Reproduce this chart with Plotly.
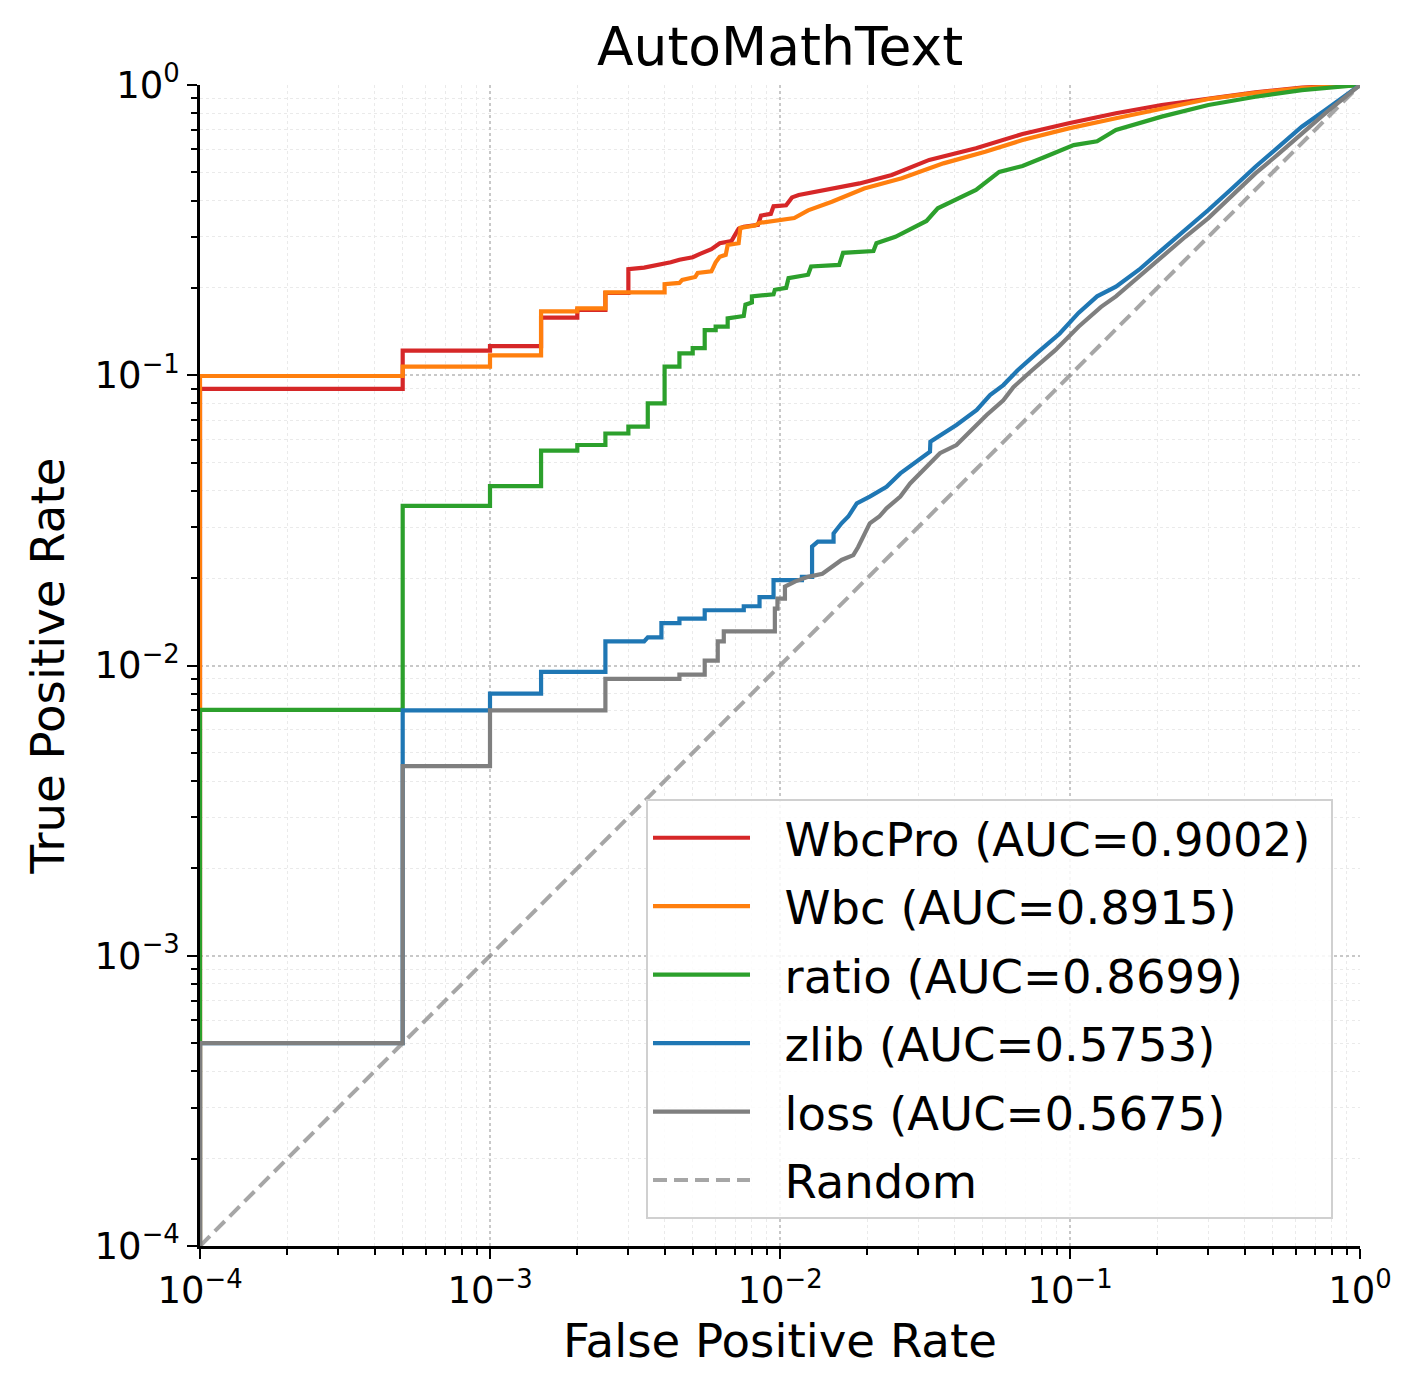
import plotly.graph_objects as go

# ---------------- data ----------------
FLOOR = 1e-6  # stands in for the (0, 0) ROC origin on log axes

wbcpro_fpr = [1e-4, 1e-4, 5e-4, 5e-4, 1e-3, 1e-3, 1.5e-3, 1.5e-3, 2e-3, 2e-3, 2.5e-3, 2.5e-3,
              3e-3, 3e-3, 3.4e-3, 3.8e-3, 4.2e-3, 4.5e-3, 5e-3, 5.3e-3, 5.8e-3, 6.2e-3, 6.8e-3,
              7.2e-3, 7.5e-3, 8.4e-3, 8.6e-3, 9.3e-3, 9.5e-3, 0.0105, 0.011, 0.0116, 0.0145,
              0.0188, 0.0243, 0.028, 0.0327, 0.0474, 0.0686, 0.099, 0.144, 0.207, 0.30, 0.436,
              0.63, 1.0]
wbcpro_tpr = [FLOOR, 0.0897, 0.0897, 0.1215, 0.1215, 0.126, 0.126, 0.158, 0.158, 0.168, 0.168, 0.192,
              0.192, 0.232, 0.235, 0.24, 0.245, 0.25, 0.255, 0.262, 0.272, 0.285, 0.29,
              0.32, 0.325, 0.33, 0.355, 0.36, 0.382, 0.385, 0.41, 0.418, 0.435,
              0.458, 0.49, 0.52, 0.552, 0.605, 0.678, 0.738, 0.799, 0.853, 0.90, 0.943,
              0.98, 1.0]

wbc_fpr = [1e-4, 1e-4, 5e-4, 5e-4, 1e-3, 1e-3, 1.5e-3, 1.5e-3, 2e-3, 2e-3, 2.5e-3, 2.5e-3,
           4e-3, 4e-3, 4.5e-3, 4.6e-3, 5.1e-3, 5.2e-3, 5.8e-3, 6e-3, 6.2e-3, 6.5e-3, 6.6e-3,
           7.2e-3, 7.3e-3, 8.2e-3, 8.5e-3, 0.0112, 0.0125, 0.0151, 0.0195, 0.0263, 0.0366,
           0.051, 0.0686, 0.099, 0.144, 0.207, 0.30, 0.436, 0.63, 1.0]
wbc_tpr = [FLOOR, 0.0994, 0.0994, 0.107, 0.107, 0.117, 0.117, 0.166, 0.166, 0.170, 0.170, 0.193,
           0.193, 0.206, 0.208, 0.213, 0.218, 0.225, 0.228, 0.245, 0.256, 0.26, 0.281,
           0.285, 0.322, 0.328, 0.335, 0.348, 0.37, 0.396, 0.44, 0.477, 0.537,
           0.589, 0.646, 0.709, 0.768, 0.831, 0.895, 0.94, 0.975, 1.0]

ratio_fpr = [1e-4, 1e-4, 5e-4, 5e-4, 1e-3, 1e-3, 1.5e-3, 1.5e-3, 2e-3, 2e-3, 2.5e-3, 2.5e-3,
             3e-3, 3e-3, 3.5e-3, 3.5e-3, 4e-3, 4e-3, 4.5e-3, 4.5e-3, 5e-3, 5e-3, 5.5e-3, 5.5e-3,
             6e-3, 6e-3, 6.6e-3, 6.6e-3, 7.5e-3, 7.6e-3, 8e-3, 8e-3, 9.5e-3, 9.6e-3, 0.0105,
             0.0107, 0.0125, 0.0128, 0.016, 0.0165, 0.021, 0.0215, 0.025, 0.029, 0.032, 0.035,
             0.04, 0.0474, 0.057, 0.0686, 0.0826, 0.103, 0.124, 0.144, 0.207, 0.30, 0.436,
             0.63, 1.0]
ratio_tpr = [FLOOR, 0.00703, 0.00703, 0.0355, 0.0355, 0.0415, 0.0415, 0.055, 0.055, 0.0575, 0.0575, 0.063,
             0.063, 0.0665, 0.0665, 0.080, 0.080, 0.107, 0.107, 0.119, 0.119, 0.124, 0.124, 0.143,
             0.143, 0.147, 0.147, 0.157, 0.16, 0.175, 0.178, 0.187, 0.19, 0.197, 0.2,
             0.216, 0.222, 0.237, 0.24, 0.264, 0.268, 0.285, 0.3, 0.325, 0.34, 0.376,
             0.40, 0.435, 0.502, 0.526, 0.567, 0.621, 0.64, 0.70, 0.778, 0.853, 0.911,
             0.96, 1.0]

zlib_fpr = [1e-4, 1e-4, 5e-4, 5e-4, 1e-3, 1e-3, 1.5e-3, 1.5e-3, 2.5e-3, 2.5e-3, 3.4e-3, 3.5e-3,
            3.9e-3, 3.9e-3, 4.5e-3, 4.5e-3, 5.5e-3, 5.5e-3, 7.5e-3, 7.5e-3, 8.5e-3, 8.5e-3,
            9.5e-3, 9.5e-3, 0.0119, 0.0119, 0.0129, 0.0129, 0.0135, 0.0153, 0.0153, 0.0163,
            0.0172, 0.0184, 0.0204, 0.0233, 0.026, 0.0296, 0.0329, 0.033, 0.0366, 0.0406,
            0.0477, 0.053, 0.0589, 0.066, 0.0767, 0.092, 0.107, 0.124, 0.144, 0.173, 0.207,
            0.25, 0.30, 0.362, 0.436, 0.525, 0.63, 0.76, 1.0]
zlib_tpr = [FLOOR, 0.0005, 0.0005, 0.0070, 0.0070, 0.0080, 0.0080, 0.0095, 0.0095, 0.0121, 0.0121, 0.0125,
            0.0125, 0.014, 0.014, 0.0145, 0.0145, 0.0155, 0.0155, 0.016, 0.016, 0.0172,
            0.0172, 0.0197, 0.0197, 0.0202, 0.0202, 0.0257, 0.0267, 0.0267, 0.0285, 0.0309,
            0.0326, 0.0362, 0.0382, 0.0413, 0.0459, 0.0504, 0.0545, 0.059, 0.063, 0.0674,
            0.0759, 0.0855, 0.0925, 0.104, 0.119, 0.139, 0.164, 0.187, 0.202, 0.231, 0.270,
            0.316, 0.371, 0.44, 0.523, 0.613, 0.718, 0.82, 1.0]

loss_fpr = [1e-4, 1e-4, 5e-4, 5e-4, 1e-3, 1e-3, 2.5e-3, 2.5e-3, 4.5e-3, 4.5e-3, 5.5e-3, 5.5e-3,
            6.1e-3, 6.1e-3, 6.4e-3, 6.4e-3, 9.6e-3, 9.6e-3, 9.8e-3, 9.8e-3, 0.0104, 0.0104,
            0.0113, 0.0125, 0.014, 0.0151, 0.0163, 0.0179, 0.0186, 0.0204, 0.022, 0.0233,
            0.026, 0.0281, 0.032, 0.0356, 0.0406, 0.0452, 0.0516, 0.0589, 0.0638, 0.074,
            0.089, 0.107, 0.128, 0.144, 0.173, 0.207, 0.25, 0.30, 0.362, 0.436, 0.525,
            0.63, 0.76, 1.0]
loss_tpr = [FLOOR, 0.0005, 0.0005, 0.0045, 0.0045, 0.0070, 0.0070, 0.0090, 0.0090, 0.0093, 0.0093, 0.0104,
            0.0104, 0.0121, 0.0121, 0.0131, 0.0131, 0.0157, 0.0157, 0.017, 0.017, 0.0187,
            0.0195, 0.0202, 0.0207, 0.0219, 0.0231, 0.024, 0.0256, 0.0309, 0.0326, 0.0348,
            0.0382, 0.0424, 0.0485, 0.0539, 0.0575, 0.064, 0.073, 0.082, 0.091, 0.104,
            0.122, 0.147, 0.172, 0.187, 0.219, 0.256, 0.30, 0.348, 0.418, 0.496, 0.58,
            0.68, 0.80, 1.0]

random_fpr = [1e-4, 1.0]
random_tpr = [1e-4, 1.0]

series_names = ["WbcPro", "Wbc", "ratio", "zlib", "loss"]
series_auc = ["0.9002", "0.8915", "0.8699", "0.5753", "0.5675"]
series_colors = ["#d62728", "#ff7f0e", "#2ca02c", "#1f77b4", "#7f7f7f"]
series_fpr = [wbcpro_fpr, wbc_fpr, ratio_fpr, zlib_fpr, loss_fpr]
series_tpr = [wbcpro_tpr, wbc_tpr, ratio_tpr, zlib_tpr, loss_tpr]

tick_vals = [1e-4, 1e-3, 1e-2, 1e-1, 1.0]
tick_text = ["10<sup>\u22124</sup>", "10<sup>\u22123</sup>", "10<sup>\u22122</sup>",
             "10<sup>\u22121</sup>", "10<sup>0</sup>"]
minor_vals = [k * 10.0 ** e for e in range(-4, 0) for k in range(2, 10)]

FONT = "DejaVu Sans"
PAD = "\u00a0\u00a0"  # spacing between legend line sample and label

# ---------------- figure ----------------
fig = go.Figure()
for i, (nm, auc, col, fx, ty) in enumerate(zip(series_names, series_auc, series_colors,
                                                series_fpr, series_tpr)):
    fig.add_trace(go.Scatter(x=fx, y=ty, mode="lines",
                             name=f"{PAD}{nm} (AUC={auc})\u00a0",
                             legendgroup=f"g{i}",
                             line=dict(color=col, width=4.2)))
fig.add_trace(go.Scatter(x=random_fpr, y=random_tpr, mode="lines", name=f"{PAD}Random",
                         legendgroup="g5",
                         line=dict(color="rgba(128,128,128,0.7)", width=4, dash="14px,7px")))

axis_common = dict(
    type="log", range=[-4, 0], tickmode="array", tickvals=tick_vals, ticktext=tick_text,
    ticks="outside", ticklen=10, tickwidth=2, tickcolor="black",
    showline=True, linecolor="black", linewidth=2.5, mirror=False, zeroline=False,
    showgrid=True, gridcolor="#c8c8c8", griddash="dot", gridwidth=1.5,
    tickfont=dict(family=FONT, size=37, color="black"),
    minor=dict(tickmode="array", tickvals=minor_vals, ticks="outside", ticklen=6,
               tickwidth=1.5, tickcolor="black", showgrid=True, gridcolor="#eaeaea",
               griddash="dot", gridwidth=1),
)

fig.update_layout(
    width=1418, height=1393,
    paper_bgcolor="white", plot_bgcolor="white",
    margin=dict(l=200, r=58, t=85, b=147),
    title=dict(text="AutoMathText", x=0.5, xref="paper", xanchor="center",
               y=1 - 46 / 1393, yref="container", yanchor="middle",
               font=dict(family=FONT, size=53.5, color="black")),
    xaxis=dict(axis_common, title=dict(text="False Positive Rate", standoff=14,
                                       font=dict(family=FONT, size=46.7, color="black"))),
    yaxis=dict(axis_common, title=dict(text="True Positive Rate", standoff=16,
                                       font=dict(family=FONT, size=46.7, color="black"))),
    legend=dict(x=(646 - 200) / 1160, y=(1246 - 799) / 1161, xanchor="left", yanchor="top",
                bgcolor="rgba(255,255,255,0.85)", bordercolor="#d0d0d0", borderwidth=2,
                font=dict(family=FONT, size=46.5, color="black"), tracegroupgap=5,
                itemwidth=97),
    showlegend=True,
)

fig.write_html("out.html")
